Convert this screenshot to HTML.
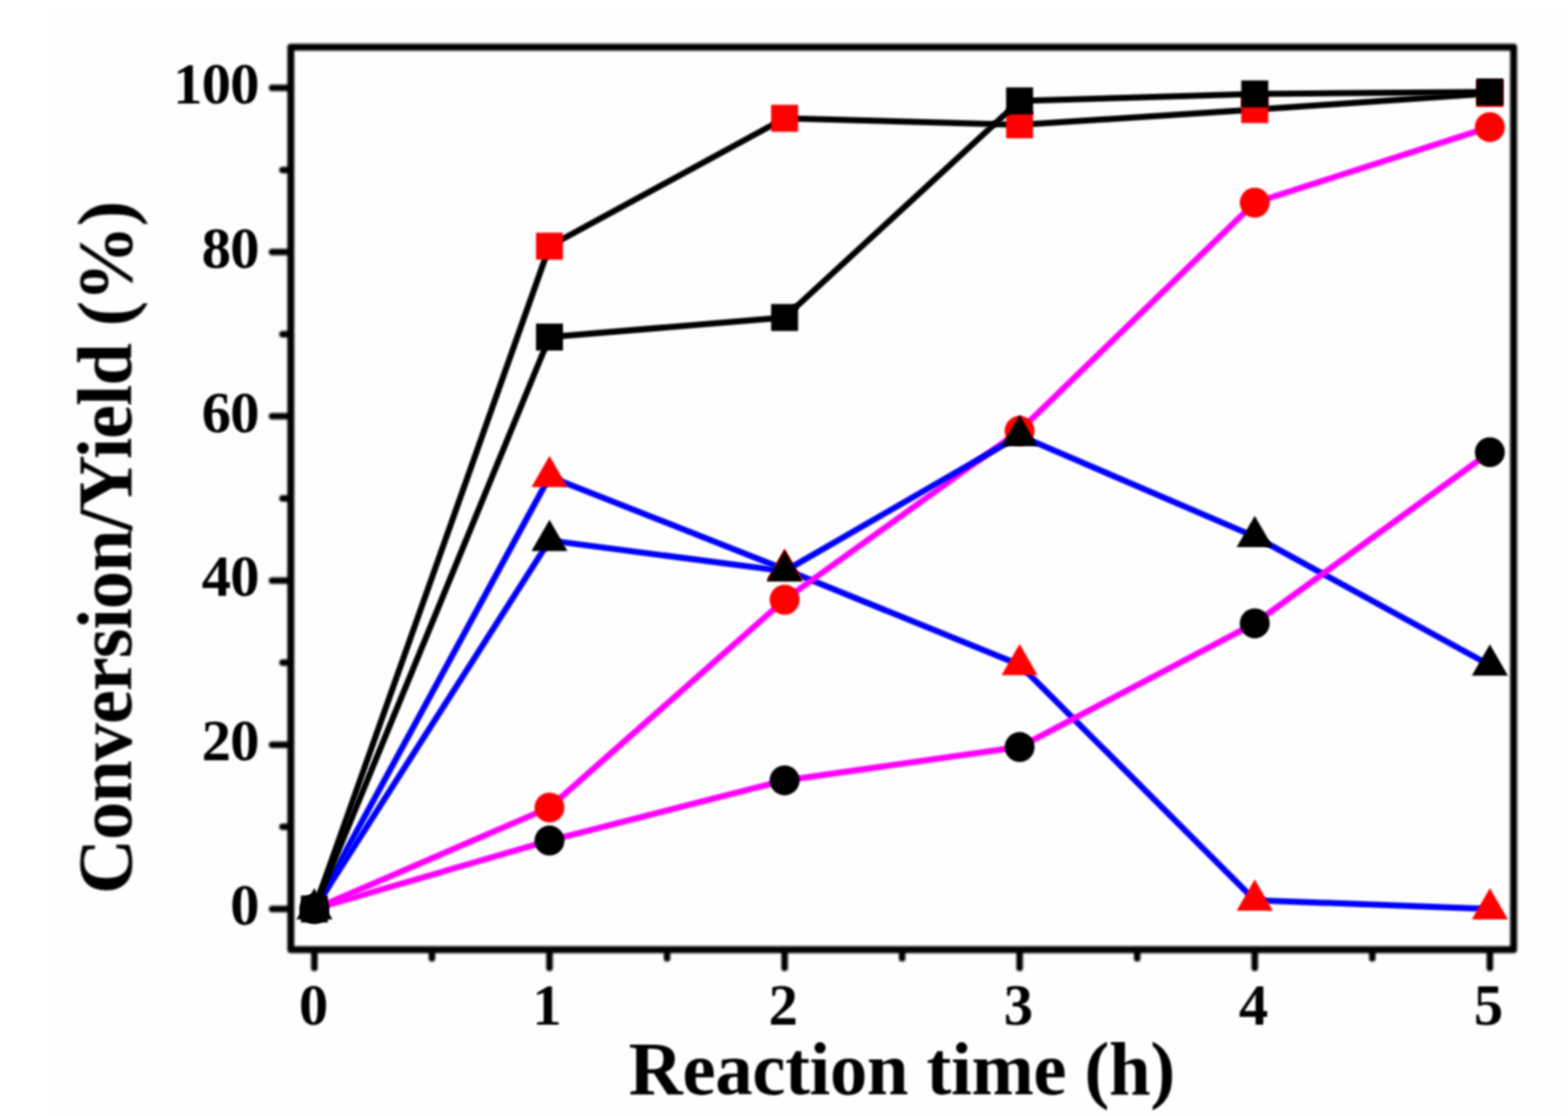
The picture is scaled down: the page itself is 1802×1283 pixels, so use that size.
<!DOCTYPE html>
<html><head><meta charset="utf-8"><title>Conversion/Yield vs Reaction time</title>
<style>html,body{margin:0;padding:0;background:#fff;width:1802px;height:1283px;overflow:hidden}svg{display:block}</style>
</head><body>
<svg width="1802" height="1283" viewBox="0 0 1802 1283" font-family="'Liberation Serif', 'Times New Roman', serif" font-weight="bold" fill="#000">
<rect x="0" y="0" width="1802" height="1283" fill="#ffffff"/>
<rect x="62" y="15" width="1740" height="1268" fill="#fefefe"/>
<defs>
<filter id="bl" filterUnits="userSpaceOnUse" x="0" y="0" width="1802" height="1283"><feGaussianBlur stdDeviation="1.2"/></filter>
<filter id="bm" filterUnits="userSpaceOnUse" x="0" y="0" width="1802" height="1283"><feGaussianBlur stdDeviation="0.9"/></filter>
<filter id="ba" filterUnits="userSpaceOnUse" x="0" y="0" width="1802" height="1283"><feGaussianBlur stdDeviation="1.4"/></filter>
<filter id="bt" filterUnits="userSpaceOnUse" x="0" y="0" width="1802" height="1283"><feGaussianBlur stdDeviation="0.8"/></filter>
</defs>
<g filter="url(#bl)"><polyline points="361.3,1045.0 631.5,548.0 901.7,654.5 1171.8,764.2 1442.0,1034.9 1712.2,1045.0" fill="none" stroke="#0000ff" stroke-width="7.0" stroke-linejoin="round" stroke-linecap="round"/></g><g filter="url(#bm)"><polygon points="631.5,524.0 610.8,560.0 652.2,560.0" fill="#ff0000"/><polygon points="901.7,630.5 881.0,666.5 922.5,666.5" fill="#ff0000"/><polygon points="1171.8,740.2 1151.0,776.2 1192.5,776.2" fill="#ff0000"/><polygon points="1442.0,1010.9 1421.2,1046.9 1462.8,1046.9" fill="#ff0000"/><polygon points="1712.2,1021.0 1691.5,1057.0 1733.0,1057.0" fill="#ff0000"/></g><g filter="url(#bl)"><polyline points="361.3,1045.0 631.5,928.4 901.7,689.5 1171.8,495.3 1442.0,233.0 1712.2,146.2" fill="none" stroke="#ff00ff" stroke-width="7.0" stroke-linejoin="round" stroke-linecap="round"/></g><g filter="url(#bm)"><circle cx="631.5" cy="928.4" r="17.2" fill="#ff0000"/><circle cx="901.7" cy="689.5" r="17.2" fill="#ff0000"/><circle cx="1171.8" cy="495.3" r="17.2" fill="#ff0000"/><circle cx="1442.0" cy="233.0" r="17.2" fill="#ff0000"/><circle cx="1712.2" cy="146.2" r="17.2" fill="#ff0000"/></g><g filter="url(#bl)"><polyline points="361.3,1045.0 631.5,621.4 901.7,656.6 1171.8,500.9 1442.0,616.9 1712.2,764.7" fill="none" stroke="#0000ff" stroke-width="7.0" stroke-linejoin="round" stroke-linecap="round"/></g><g filter="url(#bm)"><polygon points="361.3,1021.0 340.6,1057.0 382.1,1057.0" fill="#000000"/><polygon points="631.5,597.4 610.8,633.4 652.2,633.4" fill="#000000"/><polygon points="901.7,632.6 881.0,668.6 922.5,668.6" fill="#000000"/><polygon points="1171.8,476.9 1151.0,512.9 1192.5,512.9" fill="#000000"/><polygon points="1442.0,592.9 1421.2,628.9 1462.8,628.9" fill="#000000"/><polygon points="1712.2,740.7 1691.5,776.7 1733.0,776.7" fill="#000000"/></g><g filter="url(#bl)"><polyline points="361.3,1045.0 631.5,966.3 901.7,897.2 1171.8,858.8 1442.0,716.7 1712.2,519.9" fill="none" stroke="#ff00ff" stroke-width="7.0" stroke-linejoin="round" stroke-linecap="round"/></g><g filter="url(#bm)"><circle cx="361.3" cy="1045.0" r="17.2" fill="#000000"/><circle cx="631.5" cy="966.3" r="17.2" fill="#000000"/><circle cx="901.7" cy="897.2" r="17.2" fill="#000000"/><circle cx="1171.8" cy="858.8" r="17.2" fill="#000000"/><circle cx="1442.0" cy="716.7" r="17.2" fill="#000000"/><circle cx="1712.2" cy="519.9" r="17.2" fill="#000000"/></g><g filter="url(#bl)"><polyline points="361.3,1045.0 631.5,283.0 901.7,136.0 1171.8,143.5 1442.0,126.0 1712.2,107.5" fill="none" stroke="#000000" stroke-width="7.0" stroke-linejoin="round" stroke-linecap="round"/></g><g filter="url(#bm)"><rect x="616.0" y="267.5" width="31" height="31" fill="#ff0000"/><rect x="886.2" y="120.5" width="31" height="31" fill="#ff0000"/><rect x="1156.3" y="128.0" width="31" height="31" fill="#ff0000"/><rect x="1426.5" y="110.5" width="31" height="31" fill="#ff0000"/><rect x="1696.7" y="92.0" width="31" height="31" fill="#ff0000"/></g><g filter="url(#bl)"><polyline points="361.3,1045.0 631.5,387.5 901.7,365.0 1171.8,116.0 1442.0,108.0 1712.2,105.7" fill="none" stroke="#000000" stroke-width="7.0" stroke-linejoin="round" stroke-linecap="round"/></g><g filter="url(#bm)"><rect x="345.8" y="1029.5" width="31" height="31" fill="#000000"/><rect x="616.0" y="372.0" width="31" height="31" fill="#000000"/><rect x="886.2" y="349.5" width="31" height="31" fill="#000000"/><rect x="1156.3" y="100.5" width="31" height="31" fill="#000000"/><rect x="1426.5" y="92.5" width="31" height="31" fill="#000000"/><rect x="1696.7" y="90.2" width="31" height="31" fill="#000000"/></g>
<g filter="url(#ba)"><rect x="334.2" y="54.2" width="1405.3" height="1037.6" fill="none" stroke="#000" stroke-width="8.0" stroke-linejoin="round"/>
<g stroke="#000" stroke-width="7.5" stroke-linecap="round"><line x1="361.3" y1="1091.8" x2="361.3" y2="1112.8" /><line x1="631.5" y1="1091.8" x2="631.5" y2="1112.8" /><line x1="901.7" y1="1091.8" x2="901.7" y2="1112.8" /><line x1="1171.8" y1="1091.8" x2="1171.8" y2="1112.8" /><line x1="1442.0" y1="1091.8" x2="1442.0" y2="1112.8" /><line x1="1712.2" y1="1091.8" x2="1712.2" y2="1112.8" /><line x1="496.4" y1="1091.8" x2="496.4" y2="1101.8" /><line x1="766.6" y1="1091.8" x2="766.6" y2="1101.8" /><line x1="1036.75" y1="1091.8" x2="1036.75" y2="1101.8" /><line x1="1306.9" y1="1091.8" x2="1306.9" y2="1101.8" /><line x1="1577.1" y1="1091.8" x2="1577.1" y2="1101.8" /><line x1="334.2" y1="1045.0" x2="312.7" y2="1045.0" /><line x1="334.2" y1="856.2" x2="312.7" y2="856.2" /><line x1="334.2" y1="667.4" x2="312.7" y2="667.4" /><line x1="334.2" y1="478.6" x2="312.7" y2="478.6" /><line x1="334.2" y1="289.8" x2="312.7" y2="289.8" /><line x1="334.2" y1="101.0" x2="312.7" y2="101.0" /><line x1="334.2" y1="950.6" x2="324.7" y2="950.6" /><line x1="334.2" y1="761.8" x2="324.7" y2="761.8" /><line x1="334.2" y1="573.0" x2="324.7" y2="573.0" /><line x1="334.2" y1="384.2" x2="324.7" y2="384.2" /><line x1="334.2" y1="195.4" x2="324.7" y2="195.4" /></g></g>
<g filter="url(#bt)"><g font-size="67.5"><text x="360.3" y="1178.3" text-anchor="middle">0</text><text x="628.5" y="1178.3" text-anchor="middle">1</text><text x="900.2" y="1178.3" text-anchor="middle">2</text><text x="1170.3" y="1178.3" text-anchor="middle">3</text><text x="1440.5" y="1178.3" text-anchor="middle">4</text><text x="1710.7" y="1178.3" text-anchor="middle">5</text><text x="297.2" y="1062.9" text-anchor="end" letter-spacing="-1.0">0</text><text x="297.2" y="874.1" text-anchor="end" letter-spacing="-1.0">20</text><text x="297.2" y="685.3" text-anchor="end" letter-spacing="-1.0">40</text><text x="297.2" y="496.5" text-anchor="end" letter-spacing="-1.0">60</text><text x="297.2" y="307.7" text-anchor="end" letter-spacing="-1.0">80</text><text x="297.2" y="118.9" text-anchor="end" letter-spacing="-1.0">100</text></g>
<text x="722.5" y="1258" font-size="86" letter-spacing="-0.45">Reaction time (h)</text>
<text transform="translate(150.6,1027.9) rotate(-90)" font-size="88" textLength="797" lengthAdjust="spacing">Conversion/Yield (%)</text></g>
</svg>
</body></html>
